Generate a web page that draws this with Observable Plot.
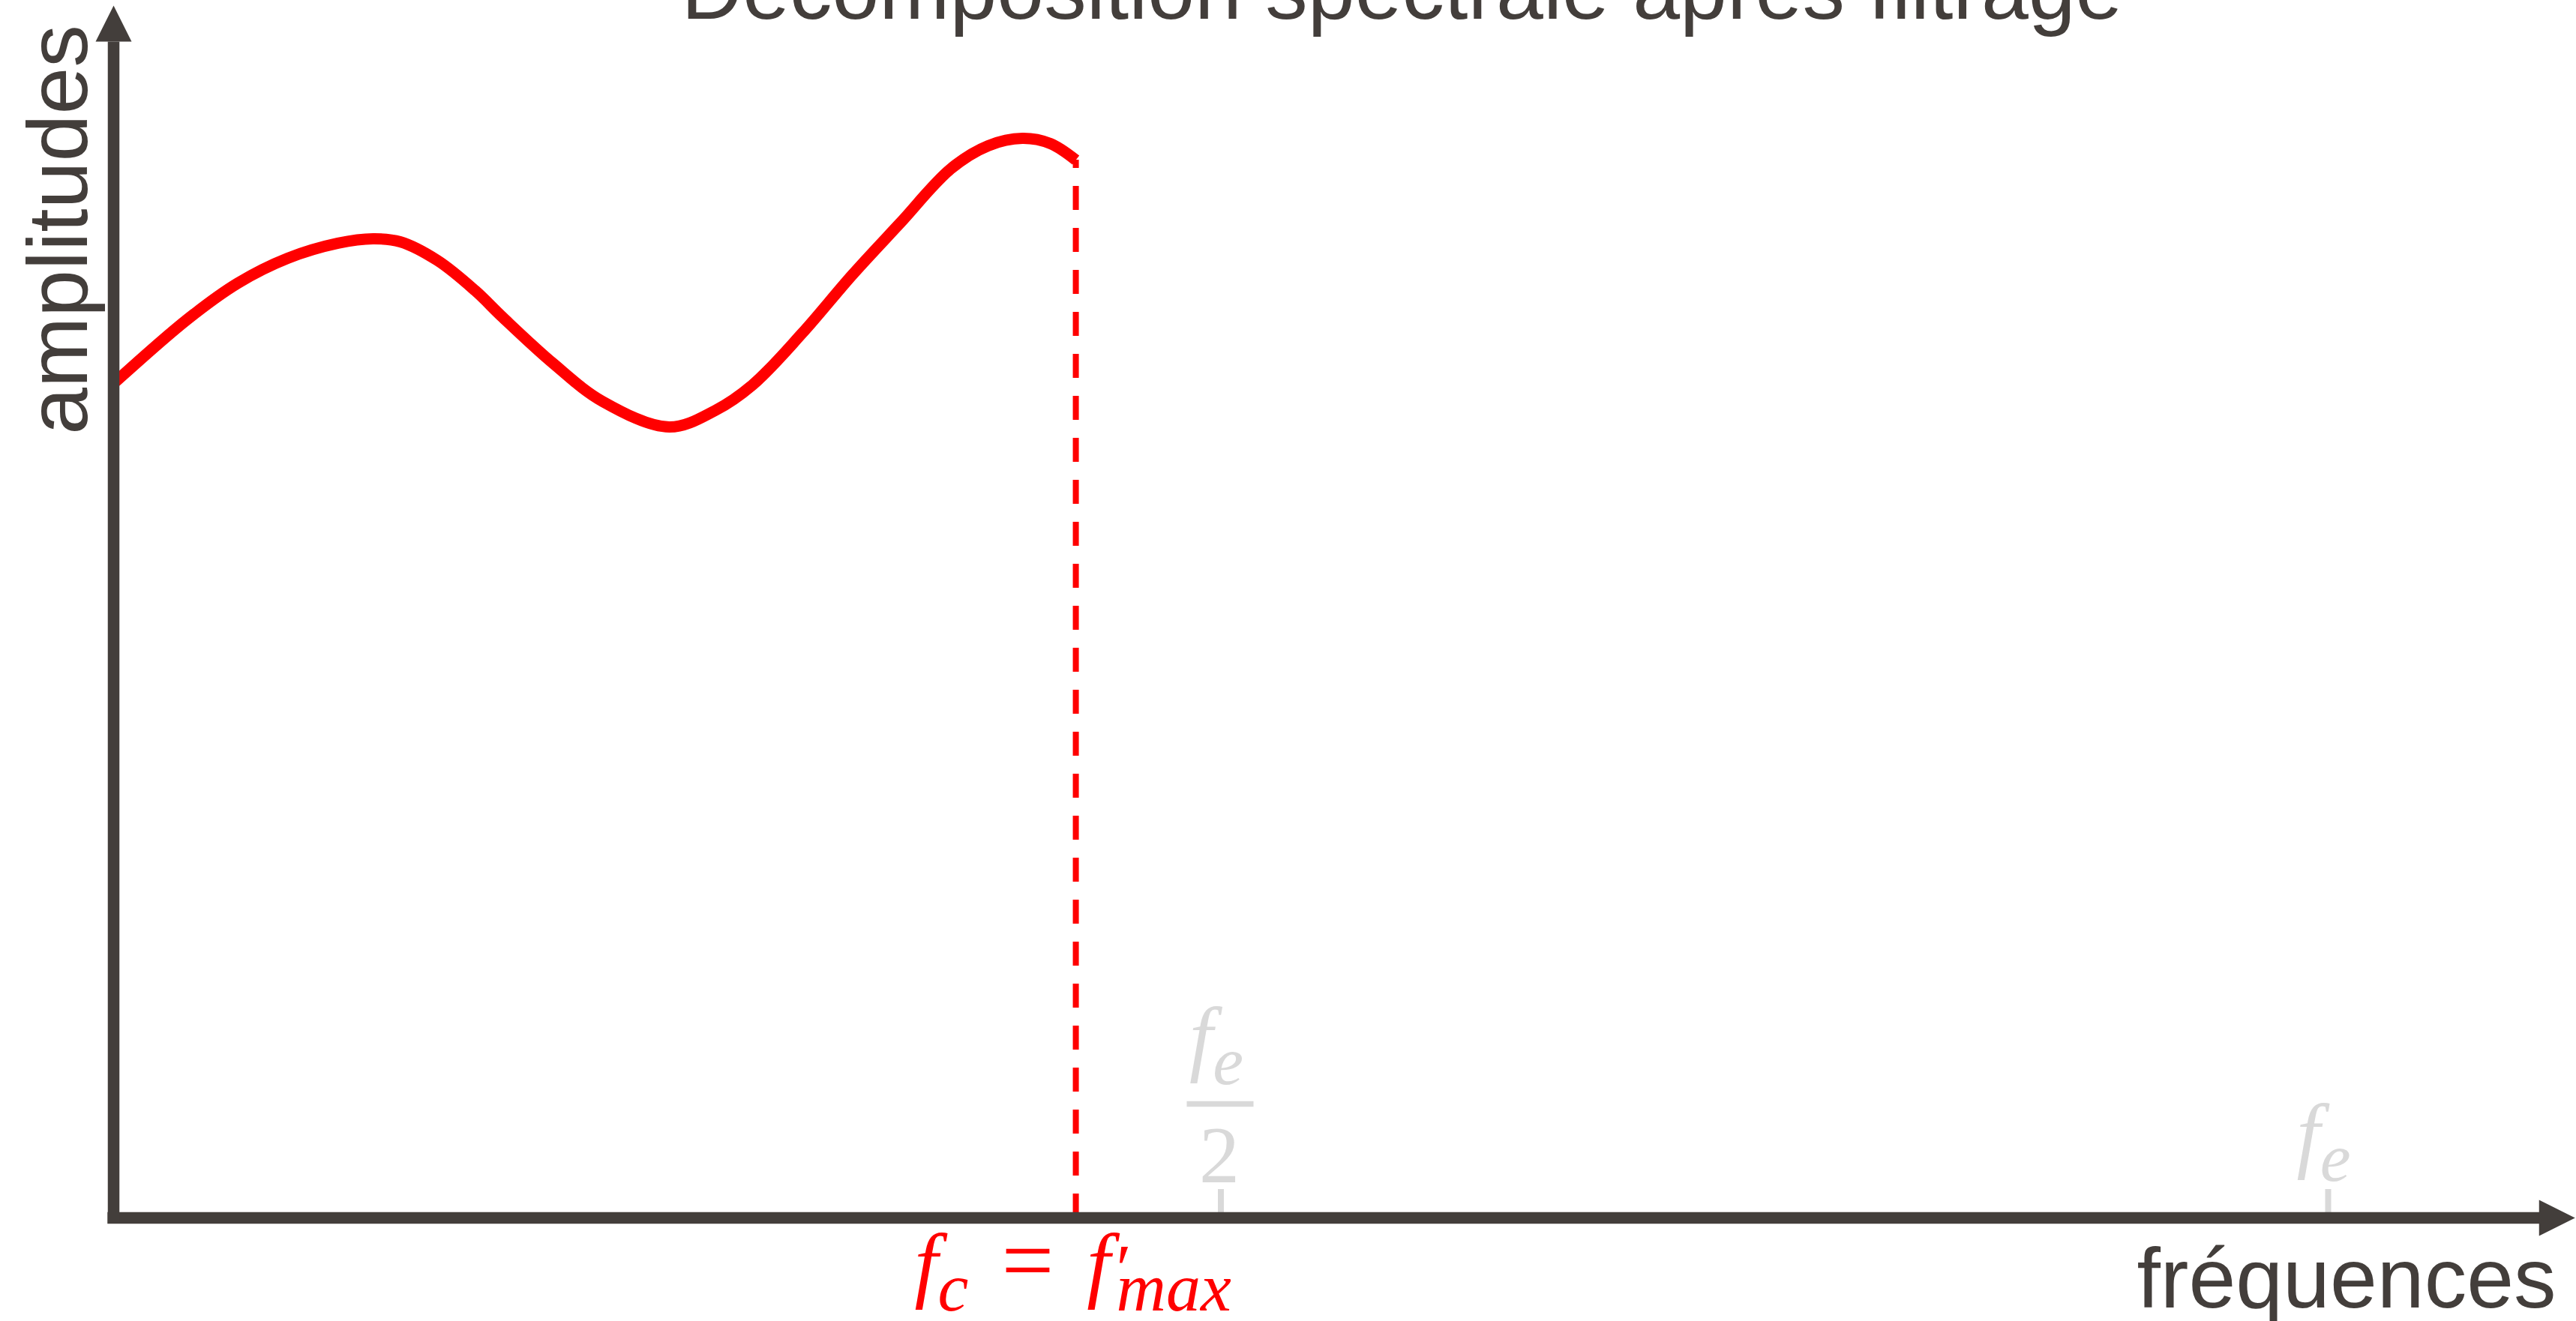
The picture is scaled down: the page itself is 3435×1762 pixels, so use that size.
<!DOCTYPE html>
<html>
<head>
<meta charset="utf-8">
<script src="https://cdn.jsdelivr.net/npm/d3@7"></script>
<script src="https://cdn.jsdelivr.net/npm/@observablehq/plot@0.6"></script>
<style>
html,body{margin:0;padding:0;background:#fff;overflow:hidden}
svg{display:block}
</style>
</head>
<body>
<div id="chart"></div>
<script>
// ---- texts ----
const title = "Décomposition spectrale après filtrage";
const yLabel = "amplitudes";
const xLabel = "fréquences";

// ---- spectrum after filtering (frequency in % of f_e, amplitude in % of axis height) ----
const freq = [0, 3.35, 5.62, 7.86, 10.13, 11.72, 12.94, 14.63, 16.32, 17.58, 19.84, 22.08, 25.09, 27.16, 28.85, 31.09, 33.36, 35.52, 37.79, 39.49, 41.04, 42.30, 43.45];
const amp  = [68.83, 74.15, 77.12, 79.16, 80.40, 80.77, 80.52, 78.97, 76.50, 74.27, 70.50, 67.35, 65.24, 66.60, 68.71, 72.97, 77.80, 82.07, 86.52, 88.44, 89.05, 88.62, 87.26];

// cut-off frequency of the filter
const cutoff = [43.45];
const cutoffLabel = ["f_c = f'_max"];

// ticks on the frequency axis
const tickValues = [50, 100];
const tickNumerators = ["f_e", "f_e"];
const tickDenominators = ["2", null];
const tickLength = 2.35;

// axis extents
const xAxisStart = -0.26, xArrowBase = 109.6, xArrowTip = 111.15;
const yAxisStart = -0.5, yArrowBase = 97.0, yArrowTip = 100;

const axisColor = "#433e3b";
const red = "#ff0000";
const gray = "#d9d9d9";
const sans = "Liberation Sans, Arial, sans-serif";
const serif = "Liberation Serif, DejaVu Serif, serif";

const curve = freq.map((f, i) => ({f, a: amp[i]}));

const arrowRight = {draw(ctx, size) { const r = Math.sqrt(size / Math.PI); ctx.moveTo(0, 0); ctx.lineTo(-2 * r, -r); ctx.lineTo(-2 * r, r); ctx.closePath(); }};
const arrowUp = {draw(ctx, size) { const r = Math.sqrt(size / Math.PI); ctx.moveTo(0, 0); ctx.lineTo(-r, 2 * r); ctx.lineTo(r, 2 * r); ctx.closePath(); }};

const fracTicks = tickValues.filter((d, i) => tickDenominators[i]);
const fracNums = tickNumerators.filter((d, i) => tickDenominators[i]);
const fracDens = tickDenominators.filter(d => d);
const plainTicks = tickValues.filter((d, i) => !tickDenominators[i]);
const plainNums = tickNumerators.filter((d, i) => !tickDenominators[i]);

const plot = Plot.plot({
  width: 3435,
  height: 1762,
  margin: 0,
  style: {background: "#fff", overflow: "visible"},
  x: {domain: [0, 100], range: [151, 3104], axis: null},
  y: {domain: [0, 100], range: [1624, 7], axis: null},
  marks: [
    // spectrum
    Plot.line(curve, {x: "f", y: "a", stroke: red, strokeWidth: 15, curve: "catmull-rom", strokeLinecap: "butt"}),
    // cut-off dashed line
    Plot.ruleX(cutoff, {x: d => d, y1: () => amp[amp.length - 1], y2: () => 0, stroke: red, strokeWidth: 8, strokeDasharray: "32,24", strokeDashoffset: 21}),
    // light ticks
    Plot.ruleX(tickValues, {x: d => d, y1: () => 0, y2: () => tickLength, stroke: gray, strokeWidth: 8}),
    // axes
    Plot.ruleY([0], {y: d => d, x1: () => xAxisStart, x2: () => xArrowBase, stroke: axisColor, strokeWidth: 15.5}),
    Plot.ruleX([0], {x: d => d, y1: () => yAxisStart, y2: () => yArrowBase, stroke: axisColor, strokeWidth: 15.5}),
    Plot.dot([0], {x: () => xArrowTip, y: d => d, r: 24, symbol: arrowRight, fill: axisColor}),
    Plot.dot([0], {x: d => d, y: () => yArrowTip, r: 24, symbol: arrowUp, fill: axisColor}),
    // tick labels
    Plot.text(fracTicks, {x: d => d, y: () => 0, text: (d, i) => fracNums[i], dx: -6, dy: -204, textAnchor: "middle", lineAnchor: "bottom", fontSize: 112, fontFamily: serif, fill: gray}),
    Plot.ruleY(fracTicks, {x1: d => d, x2: d => d, y: () => 0, dy: -152, insetLeft: -45, insetRight: -44, stroke: gray, strokeWidth: 7.5}),
    Plot.text(fracTicks, {x: d => d, y: () => 0, text: (d, i) => fracDens[i], dx: -2, dy: -48, textAnchor: "middle", lineAnchor: "bottom", fontSize: 108, fontFamily: serif, fill: gray}),
    Plot.text(plainTicks, {x: d => d, y: () => 0, text: (d, i) => plainNums[i], dx: -6, dy: -75, textAnchor: "middle", lineAnchor: "bottom", fontSize: 112, fontFamily: serif, fill: gray}),
    // cut-off label
    Plot.text(cutoff, {x: d => d, y: () => 0, text: (d, i) => cutoffLabel[i], dx: -4, dy: 98, textAnchor: "middle", lineAnchor: "bottom", fontSize: 112, fontFamily: serif, fill: red}),
    // title and axis labels
    Plot.text([title], {frameAnchor: "top-left", dx: 1869, dy: 24, text: d => d, textAnchor: "middle", lineAnchor: "bottom", fontSize: 113, fontFamily: sans, fill: axisColor}),
    Plot.text([yLabel], {frameAnchor: "top-left", dx: 115, dy: 306, rotate: -90, text: d => d, textAnchor: "middle", lineAnchor: "bottom", fontSize: 113, fontFamily: sans, fill: axisColor}),
    Plot.text([xLabel], {frameAnchor: "top-left", dx: 3408, dy: 1743, text: d => d, textAnchor: "end", lineAnchor: "bottom", fontSize: 113, fontFamily: sans, fill: axisColor})
  ]
});

document.getElementById("chart").appendChild(plot);

// ---- typeset simple math notation: letters italic, _xyz subscript, ' prime ----
const SVGNS = "http://www.w3.org/2000/svg";
function typeset(el, str) {
  const SUB = 25, subSize = 92, spaceW = 44;
  el.textContent = "";
  let shift = 0, pendingDx = 0;
  const re = /_([A-Za-z0-9]+)|(')|(=)|(\s+)|([A-Za-z])|([0-9])/g;
  let m;
  while ((m = re.exec(str))) {
    if (m[4]) { pendingDx += spaceW; continue; }
    const t = document.createElementNS(SVGNS, "tspan");
    let dy = 0;
    if (m[1]) {
      t.textContent = m[1]; t.setAttribute("font-style", "italic"); t.setAttribute("font-size", subSize);
      dy = SUB - shift; shift = SUB;
    } else if (m[2]) {
      t.textContent = "\u2032"; t.setAttribute("font-size", subSize);
      dy = -shift; shift = 0; pendingDx += 8;
    } else if (m[3]) {
      t.textContent = "="; t.setAttribute("font-size", 124); dy = -shift; shift = 0;
    } else if (m[5]) {
      t.textContent = m[5]; t.setAttribute("font-style", "italic"); dy = -shift; shift = 0;
    } else if (m[6]) {
      t.textContent = m[6]; dy = -shift; shift = 0;
    }
    if (dy) t.setAttribute("dy", dy);
    if (pendingDx) t.setAttribute("dx", pendingDx);
    pendingDx = 0;
    el.appendChild(t);
    if (m[2]) pendingDx = -t.getComputedTextLength();
  }
}
const mathStrings = new Set([...cutoffLabel, ...tickNumerators]);
plot.querySelectorAll("text").forEach(el => {
  if (mathStrings.has(el.textContent)) typeset(el, el.textContent);
});
</script>
</body>
</html>
